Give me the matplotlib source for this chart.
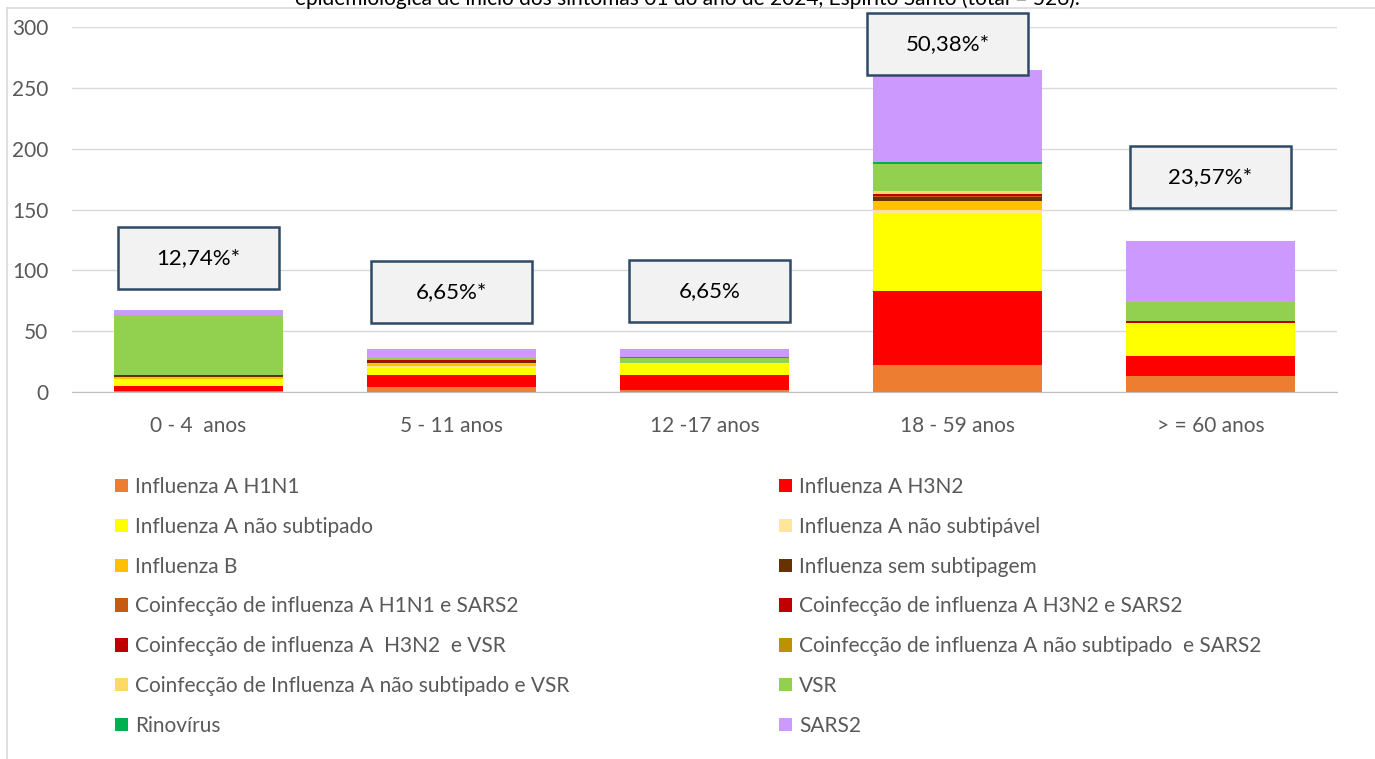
import numpy as np
import matplotlib
matplotlib.use("Agg")
import matplotlib.pyplot as plt
from matplotlib.patches import Patch, Rectangle
from matplotlib.lines import Line2D

plt.rcParams['font.family'] = ['Lato', 'DejaVu Sans']

# data
categories = ["0 - 4  anos", "5 - 11 anos", "12 -17 anos", "18 - 59 anos", "> = 60 anos"]
series_names = [
    "Influenza A H1N1", "Influenza A H3N2",
    "Influenza A não subtipado", "Influenza A não subtipável",
    "Influenza B", "Influenza sem subtipagem",
    "Coinfecção de influenza A H1N1 e SARS2", "Coinfecção de influenza A H3N2 e SARS2",
    "Coinfecção de influenza A  H3N2  e VSR", "Coinfecção de influenza A não subtipado  e SARS2",
    "Coinfecção de Influenza A não subtipado e VSR", "VSR",
    "Rinovírus", "SARS2",
]
h1n1 = [1, 4, 2, 22, 13]
h3n2 = [4, 10, 12, 61, 17]
a_nao_subtipado = [6, 6, 9, 64, 26]
a_nao_subtipavel = [0, 1, 1, 3, 1]
flu_b = [1, 3, 0, 7, 0]
sem_subtipagem = [1, 1, 0, 3, 0]
coinf_h1n1_sars2 = [0, 0, 0, 1, 0]
coinf_h3n2_sars2 = [0, 0, 0, 1, 1]
coinf_h3n2_vsr = [1, 1, 0, 1, 0]
coinf_ns_sars2 = [0, 0, 0, 0, 0]
coinf_ns_vsr = [0, 0, 0, 2, 0]
vsr = [49, 2, 4, 22, 16]
rinovirus = [0, 0, 1, 2, 0]
sars2 = [4, 7, 6, 76, 50]
pct_labels = ["12,74%*", "6,65%*", "6,65%", "50,38%*", "23,57%*"]

series = [h1n1, h3n2, a_nao_subtipado, a_nao_subtipavel, flu_b, sem_subtipagem,
          coinf_h1n1_sars2, coinf_h3n2_sars2, coinf_h3n2_vsr, coinf_ns_sars2,
          coinf_ns_vsr, vsr, rinovirus, sars2]
colors = ["#ED7D31", "#FF0000", "#FFFF00", "#FFE699", "#FFC000", "#663300",
          "#C55A11", "#C00000", "#C00000", "#BF9000", "#FFD966", "#92D050",
          "#00B050", "#CC99FF"]

# layout for the percentage boxes (center y in data units, x offset)
box_y = [110, 82, 83, 286, 177]
box_dx = [0, 0, 0.02, -0.04, 0]

fig = plt.figure(figsize=(13.75, 7.59), dpi=100)
ax = fig.add_axes([72 / 1375, 1 - 392 / 759, 1265 / 1375, 365 / 759])

x = np.arange(len(categories))
bottom = np.zeros(len(categories))
for vals, col in zip(series, colors):
    ax.bar(x, vals, width=0.667, bottom=bottom, color=col, linewidth=0, zorder=3)
    bottom += np.array(vals)

ax.set_xlim(-0.5, len(categories) - 0.5)
ax.set_ylim(0, 300)
ax.set_yticks(np.arange(0, 301, 50))
ax.grid(axis='y', color='#D9D9D9', linewidth=1, zorder=0)
for s in ['top', 'right', 'left']:
    ax.spines[s].set_visible(False)
ax.spines['bottom'].set_color('#BFBFBF')
ax.spines['bottom'].set_zorder(4)
ax.tick_params(axis='both', length=0, labelsize=15, labelcolor='#595959')
ax.tick_params(axis='y', pad=17)
ax.tick_params(axis='x', pad=17)
ax.set_xticks(x)
ax.set_xticklabels(categories)

# percentage boxes
bw, bh = 0.636, 51
for i, lab in enumerate(pct_labels):
    cx = x[i] + box_dx[i]
    rect = Rectangle((cx - bw / 2, box_y[i] - bh / 2), bw, bh, facecolor='#F2F2F2',
                     edgecolor='#2E4A66', linewidth=1.8, zorder=5, clip_on=False)
    ax.add_patch(rect)
    ax.text(cx, box_y[i], lab, ha='center', va='center', fontsize=16,
            color='black', zorder=6, clip_on=False)

# legend in two columns, row-major order
handles = [Patch(facecolor=c, edgecolor='none') for c in colors]
for col, xpos in enumerate([115 / 1375, 779 / 1375]):
    leg = fig.legend(handles[col::2], series_names[col::2], loc='upper left',
                     bbox_to_anchor=(xpos, 1 - 477 / 759), frameon=False,
                     fontsize=15, labelcolor='#595959', handlelength=0.62,
                     handleheight=0.62, handletextpad=0.35, labelspacing=0.95,
                     borderaxespad=0, borderpad=0)

# title (cut at the top of the image)
fig.text(687 / 1375, 1 + 1 / 759,
         "epidemiológica de início dos sintomas 01 do ano de 2024, Espírito Santo (total = 526).",
         ha='center', va='center', fontsize=15, color='black')

# chart frame lines
fig.add_artist(Line2D([7 / 1375, 7 / 1375], [0, 1 - 8 / 759], color='#D9D9D9', lw=1.2))
fig.add_artist(Line2D([7 / 1375, 1], [1 - 8 / 759, 1 - 8 / 759], color='#D9D9D9', lw=1.2))

fig.savefig("out.png", dpi=100)
